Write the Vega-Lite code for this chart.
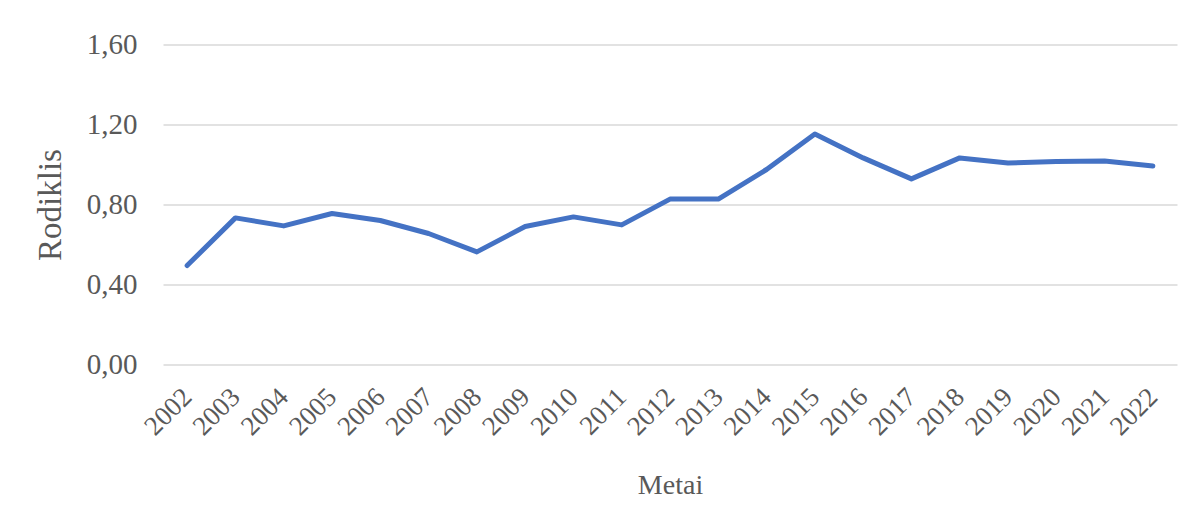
{
  "$schema": "https://vega.github.io/schema/vega-lite/v6.json",
  "width": 1014,
  "height": 320,
  "autosize": {"type": "none"},
  "padding": {"left": 163, "top": 44.5, "right": 17, "bottom": 148.5},
  "background": "white",
  "config": {
    "view": {"stroke": null},
    "font": "Liberation Serif",
    "axis": {
      "labelFont": "Liberation Serif",
      "titleFont": "Liberation Serif",
      "labelColor": "#595959",
      "titleColor": "#595959",
      "titleFontWeight": "normal",
      "ticks": false,
      "domain": false
    }
  },
  "data": {
    "values": [
      {"Metai": "2002", "Rodiklis": 0.495},
      {"Metai": "2003", "Rodiklis": 0.733},
      {"Metai": "2004", "Rodiklis": 0.693},
      {"Metai": "2005", "Rodiklis": 0.755},
      {"Metai": "2006", "Rodiklis": 0.72},
      {"Metai": "2007", "Rodiklis": 0.655},
      {"Metai": "2008", "Rodiklis": 0.563},
      {"Metai": "2009", "Rodiklis": 0.69},
      {"Metai": "2010", "Rodiklis": 0.738},
      {"Metai": "2011", "Rodiklis": 0.698},
      {"Metai": "2012", "Rodiklis": 0.827},
      {"Metai": "2013", "Rodiklis": 0.827},
      {"Metai": "2014", "Rodiklis": 0.975},
      {"Metai": "2015", "Rodiklis": 1.152},
      {"Metai": "2016", "Rodiklis": 1.033},
      {"Metai": "2017", "Rodiklis": 0.928},
      {"Metai": "2018", "Rodiklis": 1.033},
      {"Metai": "2019", "Rodiklis": 1.007},
      {"Metai": "2020", "Rodiklis": 1.015},
      {"Metai": "2021", "Rodiklis": 1.018},
      {"Metai": "2022", "Rodiklis": 0.993}
    ]
  },
  "mark": {
    "type": "line",
    "color": "#4472C4",
    "strokeWidth": 5,
    "strokeCap": "round",
    "strokeJoin": "round"
  },
  "encoding": {
    "x": {
      "field": "Metai",
      "type": "ordinal",
      "scale": {"type": "point", "padding": 0.5},
      "axis": {
        "title": "Metai",
        "labelAngle": -45,
        "labelAlign": "right",
        "labelBaseline": "middle",
        "labelFontSize": 27,
        "labelPadding": 28,
        "titleFontSize": 28,
        "titlePadding": 32,
        "grid": false
      }
    },
    "y": {
      "field": "Rodiklis",
      "type": "quantitative",
      "scale": {"domain": [0, 1.6], "nice": false},
      "axis": {
        "title": "Rodiklis",
        "values": [0, 0.4, 0.8, 1.2, 1.6],
        "format": ".2f",
        "labelExpr": "replace(datum.label, '.', ',')",
        "labelFontSize": 29,
        "labelPadding": 26,
        "titleFontSize": 33,
        "titlePadding": 19,
        "grid": true,
        "gridColor": "#d9d9d9",
        "gridWidth": 1.5
      }
    }
  }
}
